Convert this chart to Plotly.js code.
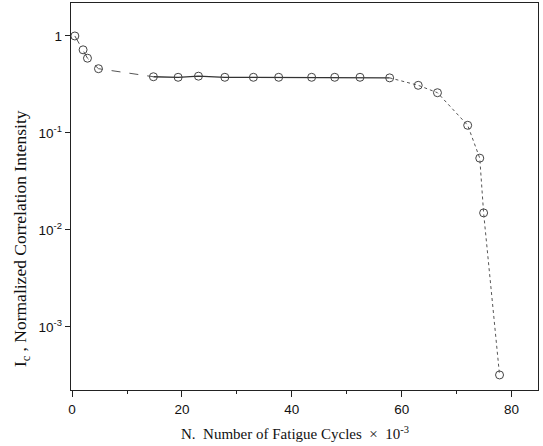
<!DOCTYPE html>
<html><head><meta charset="utf-8">
<script src="https://cdn.plot.ly/plotly-3.0.1.min.js"></script>
<style>body{margin:0;background:#fff}#c{width:543px;height:446px}</style>
</head><body><div id="c"></div>
<script>
const cycles = [0.5, 2.0, 2.8, 4.8, 14.8, 19.3, 23.0, 27.8, 33.0, 37.6, 43.6, 47.8, 52.4, 57.8, 63.0, 66.5, 72.0, 74.2, 74.9, 77.8];
const intensity = [1.0, 0.72, 0.59, 0.46, 0.38, 0.375, 0.385, 0.375, 0.375, 0.375, 0.375, 0.375, 0.375, 0.37, 0.31, 0.26, 0.12, 0.055, 0.015, 0.00032];
const yTickVals = [1, 0.1, 0.01, 0.001];
const yTickText = ['1', '10<sup>-1</sup>', '10<sup>-2</sup>', '10<sup>-3</sup>'];
const xTickVals = [0, 20, 40, 60, 80];
const xTitle = 'N.  Number of Fatigue Cycles  ×  10<sup>-3</sup>';
const yTitle = 'I<sub>c</sub> , Normalized Correlation Intensity';

const lineCol = '#555';
const serif = 'Liberation Serif, Times New Roman, serif';
const traces = [
  {x: cycles.slice(0, 5), y: intensity.slice(0, 5), mode: 'lines', line: {color: lineCol, width: 1, dash: 'dash'}, hoverinfo: 'skip'},
  {x: cycles.slice(4, 14), y: intensity.slice(4, 14), mode: 'lines', line: {color: '#333', width: 1.3}, hoverinfo: 'skip'},
  {x: cycles.slice(13), y: intensity.slice(13), mode: 'lines', line: {color: lineCol, width: 1, dash: 'dot'}, hoverinfo: 'skip'},
  {x: cycles, y: intensity, mode: 'markers', marker: {symbol: 'circle-open', size: 8, color: '#444', line: {width: 1, color: '#444'}}}
];
const layout = {
  width: 543, height: 446,
  margin: {l: 71, r: 5, t: 3, b: 56},
  showlegend: false,
  paper_bgcolor: '#fff', plot_bgcolor: '#fff',
  font: {family: 'Liberation Sans, Arial, sans-serif', size: 13.5, color: '#111'},
  xaxis: {
    range: [-0.2, 84.8], tickvals: xTickVals, ticks: 'outside', ticklen: 6, tickwidth: 1, tickcolor: '#222',
    showline: true, linecolor: '#222', linewidth: 1.3, mirror: true, showgrid: false, zeroline: false,
    minor: {dtick: 10, ticks: 'outside', ticklen: 3, tickcolor: '#222'}
  },
  yaxis: {
    type: 'log', range: [-3.65, 0.34], tickvals: yTickVals, ticktext: yTickText, ticks: 'outside', ticklen: 5, tickwidth: 1, tickcolor: '#222',
    showline: true, linecolor: '#222', linewidth: 1.3, mirror: true, showgrid: false, zeroline: false
  },
  annotations: [
    {text: xTitle, xref: 'paper', yref: 'paper', x: 0.479, y: -0.11, xanchor: 'center', yanchor: 'middle', showarrow: false, font: {family: serif, size: 15, color: '#111'}},
    {text: yTitle, xref: 'paper', yref: 'paper', x: -0.107, y: 0.39, xanchor: 'center', yanchor: 'middle', textangle: -90, showarrow: false, font: {family: serif, size: 17.5, color: '#111'}}
  ]
};
Plotly.newPlot('c', traces, layout, {staticPlot: true});
</script></body></html>
